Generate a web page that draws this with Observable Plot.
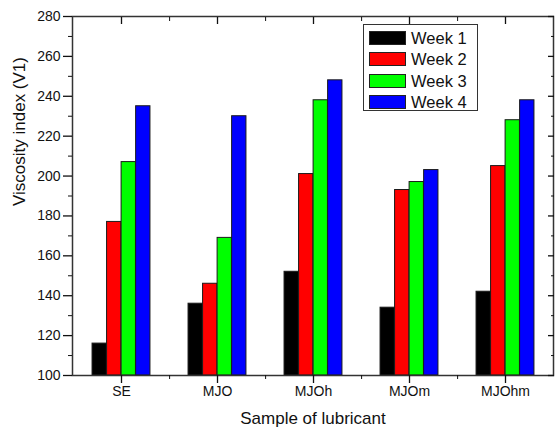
<!DOCTYPE html>
<html>
<head>
<meta charset="utf-8">
<script src="https://cdn.jsdelivr.net/npm/d3@7"></script>
<script src="https://cdn.jsdelivr.net/npm/@observablehq/plot@0.6"></script>
<style>
  html, body { margin: 0; padding: 0; background: #fff; }
  #wrap { position: relative; width: 556px; height: 427px; font-family: "Liberation Sans", Arial, sans-serif; }
  #legend { position: absolute; left: 363px; top: 24px; width: 113px; height: 85px; border: 1.5px solid #333; background: #fff; }
  .row { position: absolute; left: 5px; height: 16px; display: flex; align-items: center; }
  .sw { width: 37px; height: 14px; border: 1px solid #222; box-sizing: border-box; }
  .lab { margin-left: 5px; font-size: 16.5px; color: #111; line-height: 16px; }
</style>
</head>
<body>
<div id="wrap"><div id="legend"></div></div>
<script>
const samples = ["SE", "MJO", "MJOh", "MJOm", "MJOhm"];
const weeks = ["Week 1", "Week 2", "Week 3", "Week 4"];
const week1 = [116, 136, 152, 134, 142];
const week2 = [177, 146, 201, 193, 205];
const week3 = [207, 169, 238, 197, 228];
const week4 = [235, 230, 248, 203, 238];
const colors = ["#000000", "#ff0000", "#00ff00", "#0000ff"];
const yMajor = [100, 120, 140, 160, 180, 200, 220, 240, 260, 280];
const yMinor = [110, 130, 150, 170, 190, 210, 230, 250, 270];
const xTitle = "Sample of lubricant";
const yTitle = "Viscosity index (V1)";

const series = [week1, week2, week3, week4];
const W = 556, H = 427, ml = 72, mr = 3, mt = 16, mb = 52;
const bw = (W - ml - mr) / samples.length;
const barW = bw * 0.151;
const off = (bw - 4 * barW) / 2;

const barMarks = series.map((vals, i) => {
  const data = samples.map((s, j) => ({sample: s, value: vals[j]}));
  return Plot.barY(data, {
    x: "sample", y1: 100, y2: "value",
    fill: colors[i], stroke: "#1a1a1a", strokeWidth: 1,
    insetLeft: off + i * barW,
    insetRight: bw - off - (i + 1) * barW
  });
});

const blank = () => "";
const chart = Plot.plot({
  width: W, height: H,
  marginLeft: ml, marginRight: mr, marginTop: mt, marginBottom: mb,
  style: {fontFamily: "'Liberation Sans', Arial, sans-serif", fontSize: "14px", color: "#111", background: "#fff"},
  x: {type: "band", domain: samples, padding: 0},
  y: {domain: [100, 280]},
  marks: [
    ...barMarks,
    Plot.frame({stroke: "#333", strokeWidth: 1.5}),
    Plot.axisY({ticks: yMajor, tickSize: 9, tickPadding: 3, label: null, strokeWidth: 1.3}),
    Plot.axisY({ticks: yMinor, tickSize: 4, tickFormat: blank, label: null}),
    Plot.axisY({anchor: "right", ticks: yMajor, tickSize: -6, tickFormat: blank, label: null, strokeWidth: 1.3}),
    Plot.axisY({anchor: "right", ticks: yMinor, tickSize: -3, tickFormat: blank, label: null}),
    Plot.axisX({anchor: "bottom", tickSize: 8, tickPadding: 3, label: null, strokeWidth: 1.3}),
    Plot.axisX({anchor: "bottom", ticks: samples.slice(0, 4), dx: bw / 2, tickSize: 4, tickFormat: blank, label: null}),
    Plot.axisX({anchor: "top", tickSize: -7, tickFormat: blank, label: null, strokeWidth: 1.3}),
    Plot.axisX({anchor: "top", ticks: samples.slice(0, 4), dx: bw / 2, tickSize: -4, tickFormat: blank, label: null}),
    Plot.text([xTitle], {text: d => d, frameAnchor: "bottom", lineAnchor: "middle", dy: 43, fontSize: 17}),
    Plot.text([yTitle], {text: d => d, frameAnchor: "left", lineAnchor: "middle", rotate: -90, dx: -53, dy: 10, fontSize: 17})
  ]
});
document.getElementById("wrap").prepend(chart);

const legend = document.getElementById("legend");
weeks.forEach((w, i) => {
  const row = document.createElement("div");
  row.className = "row";
  row.style.top = (4.5 + i * 21.6) + "px";
  const sw = document.createElement("div");
  sw.className = "sw";
  sw.style.background = colors[i];
  const lab = document.createElement("span");
  lab.className = "lab";
  lab.textContent = w;
  row.appendChild(sw); row.appendChild(lab);
  legend.appendChild(row);
});
</script>
</body>
</html>
